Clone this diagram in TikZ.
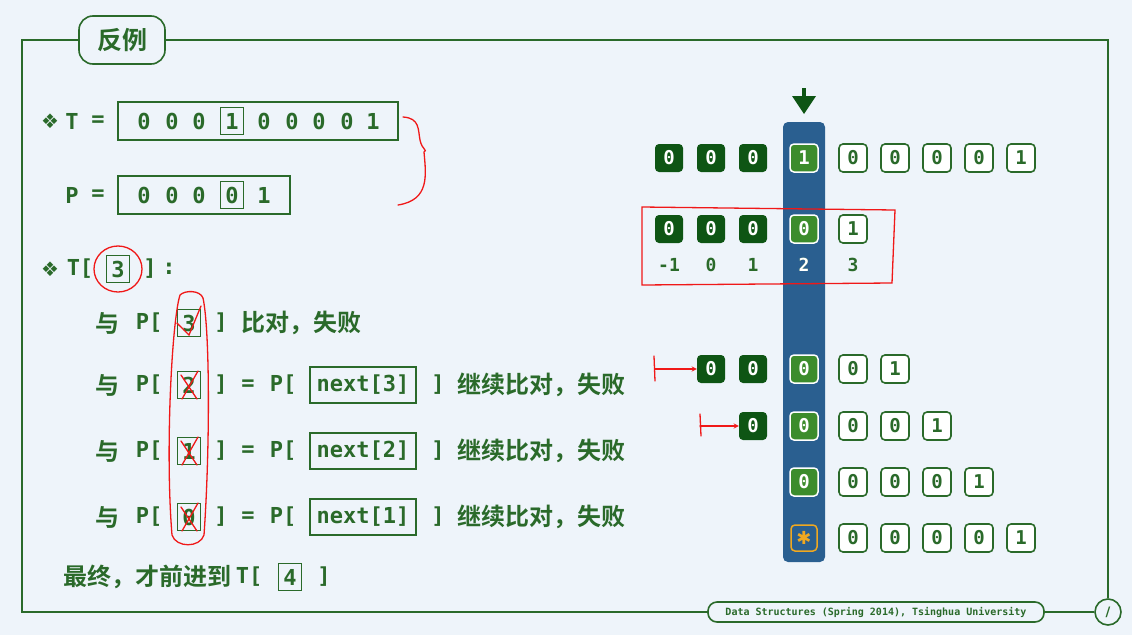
\documentclass[tikz,border=0pt]{standalone}
\usepackage{fontspec}
\setmonofont{DejaVu Sans Mono}
\newfontfamily\cjk{Noto Sans CJK SC}
\newfontfamily\cjkb{Noto Sans CJK SC Bold}
\newfontfamily\sym{DejaVu Sans}
\definecolor{bg}{HTML}{EEF4FA}
\definecolor{fg}{HTML}{2A6A2A}
\definecolor{dk}{HTML}{0E5514}
\definecolor{lg}{HTML}{3C8C2C}
\definecolor{col}{HTML}{2A5F90}
\definecolor{rd}{HTML}{F01818}
\definecolor{org}{HTML}{F0A820}
\begin{document}
\begin{tikzpicture}[x=1pt,y=-1pt,
  txt/.style={text=fg,font=\ttfamily\bfseries\fontsize{22}{24}\selectfont,inner sep=0pt,anchor=center},
  cn/.style={text=fg,font=\cjkb\fontsize{24}{26}\selectfont,inner sep=0pt,anchor=west},
  frm/.style={draw=fg,line width=1.6pt},
  ibox/.style={draw=fg,line width=1.2pt,inner sep=0pt,minimum height=27pt,minimum width=23pt},
  cell/.style={minimum width=28pt,minimum height=28pt,rounded corners=4pt,inner sep=0pt,font=\ttfamily\bfseries\fontsize{19}{20}\selectfont},
  dcell/.style={cell,fill=dk,text=white},
  gcell/.style={cell,fill=lg,draw=white,line width=1.5pt,text=white},
  wcell/.style={cell,fill=white,draw=fg,line width=1.6pt,text=fg},
  red/.style={draw=rd,line width=1.3pt,line cap=round},
]
\fill[bg] (0,0) rectangle (1132,635);
\useasboundingbox (0,0) rectangle (1132,635);
% frame
\coordinate (tl) at (22,40); \coordinate (tr) at (1108,40);
\coordinate (bl) at (22,612);
\node[frm,fill=bg,rounded corners=14pt,minimum width=86pt,minimum height=48pt,text=fg,font=\cjkb\fontsize{25}{27}\selectfont] (title) at (122,40) {反例};
\node[frm,fill=bg,rounded corners=9pt,minimum width=336pt,minimum height=20pt,inner sep=0pt,text=fg,font=\ttfamily\bfseries\fontsize{10}{10}\selectfont] (foot) at (876,612) {Data Structures (Spring 2014), Tsinghua University};
\node[frm,fill=bg,circle,minimum size=26pt,inner sep=0pt,text=fg,font=\sym\bfseries\fontsize{13}{13}\selectfont] (pg) at (1108,612) {/};
\draw[frm] (title.west) -- (tl) -- (bl) -- (foot.west);
\draw[frm] (title.east) -- (tr) -- (pg.north);
\draw[frm] (foot.east) -- (pg.west);
% T row
\node[txt,font=\sym\fontsize{20}{20}\selectfont] (b1) at (50,121) {❖};
\node[txt] (Tl) at (72,121) {T};
\node[txt] (Te) at (98,121) {=};
\node[draw=fg,line width=1.2pt,minimum width=280pt,minimum height=38pt] (Tbox) at (258,121) {};
\foreach \x/\d [count=\i] in {144/0,172/0,199/0,232/1,264/0,292/0,319/0,347/0,373/1}
  \node[txt] (t\i) at (\x,121) {\d};
\node[ibox] (t4b) at (232,121) {};
% P row
\node[txt] (Pl) at (72,195) {P};
\node[txt] (Pe) at (98,195) {=};
\node[draw=fg,line width=1.2pt,minimum width=172pt,minimum height=38pt] (Pbox) at (204,195) {};
\foreach \x/\d [count=\i] in {144/0,172/0,199/0,232/0,264/1}
  \node[txt] (p\i) at (\x,195) {\d};
\node[ibox] (p4b) at (232,195) {};
% brace
\draw[red] (403,117) .. controls (420,118) and (418,130) .. (420,140) .. controls (422,150) and (428,150) .. (424,152) .. controls (426,175) and (430,200) .. (398,205);
% T[3]
\node[txt,font=\sym\fontsize{20}{20}\selectfont] (b2) at (50,269) {❖};
\node[txt] (T3a) at (80,269) {T[};
\node[txt,ibox] (T3) at (118,269) {3};
\node[txt] (T3c) at (150,269) {]};
\node[txt] (T3d) at (169,269) {:};
\draw[red] (T3) ellipse (24pt and 23pt);
% rows
\node[cn] (r1a) at (95,323) {与};
\node[txt] (r1b) at (149,323) {P[};
\node[txt,ibox] (r1c) at (189,323) {3};
\node[txt] (r1d) at (221,323) {]};
\node[cn] (r1e) at (241,323) {比对，失败};
\foreach \y/\k/\n/\nm in {385/2/3/r2,451/1/2/r3,517/0/1/r4}{
  \node[cn] (\nm a) at (95,\y) {与};
  \node[txt] (\nm b) at (149,\y) {P[};
  \node[txt,ibox] (\nm c) at (189,\y) {\k};
  \node[txt] (\nm d) at (221,\y) {]};
  \node[txt] (\nm e) at (248,\y) {=};
  \node[txt] (\nm f) at (283,\y) {P[};
  \node[txt,draw=fg,line width=1.2pt,minimum width=106pt,minimum height=36pt] (\nm g) at (363,\y) {next[\n]};
  \node[txt] (\nm h) at (438,\y) {]};
  \node[cn] (\nm i) at (457,\y) {继续比对，失败};
  \draw[red] ([shift={(-8,-10)}]\nm c.center) -- ([shift={(8,14)}]\nm c.center);
  \draw[red] ([shift={(9,-14)}]\nm c.center) -- ([shift={(-7,14)}]\nm c.center);
}
\draw[red] (r1c.west) -- ([shift={(0,12)}]r1c.center) -- ([shift={(12,-17)}]r1c.center);
\draw[red] (180,295) .. controls (172,320) and (165,450) .. (172,535) .. controls (176,548) and (200,548) .. (204,535) .. controls (210,450) and (210,330) .. (203,298) .. controls (200,290) and (185,290) .. (180,295);
\node[cn] (fin) at (63,577) {最终，才前进到};
\node[txt] (fin2) at (249,577) {T[};
\node[txt,ibox] (f4) at (290,577) {4};
\node[txt] (f5) at (324,577) {]};
% right side
\node[fill=col,rounded corners=5pt,minimum width=42pt,minimum height=440pt,inner sep=0pt] (colm) at (804,342) {};
\coordinate (arTop) at (804,88);
\draw[dk,line width=4pt] (arTop) -- (804,100);
\fill[dk] (792,96) -- (816,96) -- (804,114) -- cycle;
\foreach \x/\s/\d [count=\i] in {669/dcell/0,711/dcell/0,753/dcell/0,804/gcell/1,853/wcell/0,895/wcell/0,937/wcell/0,979/wcell/0,1021/wcell/1}
  \node[\s] (a\i) at (\x,158) {\d};
\foreach \x/\s/\d [count=\i] in {669/dcell/0,711/dcell/0,753/dcell/0,804/gcell/0,853/wcell/1}
  \node[\s] (c\i) at (\x,229) {\d};
\foreach \x/\d [count=\i] in {669/-1,711/0,753/1,804/2,853/3}
  \node[txt,font=\ttfamily\bfseries\fontsize{18}{18}\selectfont] (l\i) at (\x,265) {\d};
\node[txt,text=white,font=\ttfamily\bfseries\fontsize{18}{18}\selectfont] at (l4) {2};
\draw[red] (642,207) -- (895,210) -- (892,283) -- (642,285) -- cycle;
\foreach \x/\s/\d [count=\i] in {711/dcell/0,753/dcell/0,804/gcell/0,853/wcell/0,895/wcell/1}
  \node[\s] (d\i) at (\x,369) {\d};
\foreach \x/\s/\d [count=\i] in {753/dcell/0,804/gcell/0,853/wcell/0,895/wcell/0,937/wcell/1}
  \node[\s] (e\i) at (\x,426) {\d};
\foreach \x/\s/\d [count=\i] in {804/gcell/0,853/wcell/0,895/wcell/0,937/wcell/0,979/wcell/1}
  \node[\s] (g\i) at (\x,482) {\d};
\node[cell,draw=org,line width=1.5pt,text=org,minimum width=26pt,minimum height=26pt,font=\sym\bfseries\fontsize{18}{18}\selectfont] (h1) at (804,538) {✱};
\foreach \x/\d [count=\i] in {853/0,895/0,937/0,979/0,1021/1}
  \node[wcell] (h\i x) at (\x,538) {\d};
% red arrows
\coordinate (ra) at (655,369); \coordinate (rb) at (700,426);
\draw[red] (654,356) -- (655,381);
\draw[red,->,>=stealth] (ra) -- (d1.west);
\draw[red] (700,414) -- (701,436);
\draw[red,->,>=stealth] (rb) -- (e1.west);
\end{tikzpicture}
\end{document}
